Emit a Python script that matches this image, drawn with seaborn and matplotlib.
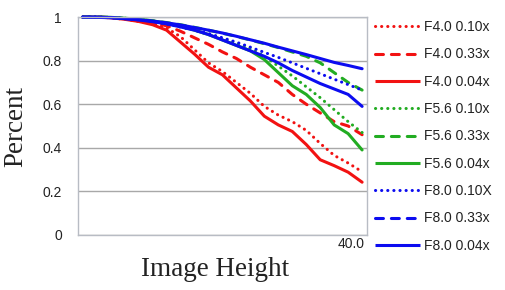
import numpy as np
import pandas as pd
import matplotlib
matplotlib.use("Agg")
import matplotlib.pyplot as plt
import matplotlib.transforms as mtransforms
from matplotlib.lines import Line2D
import seaborn as sns

# ---- data ----
image_height = [0, 2, 4, 6, 8, 10, 12, 14, 16, 18, 20, 22, 24, 26, 28, 30, 32, 34, 36, 38, 40]

f40_010 = [1.0, 1.0, 0.997, 0.99, 0.98, 0.97, 0.95, 0.91, 0.85, 0.79, 0.75, 0.70, 0.65, 0.59, 0.55, 0.52, 0.48, 0.42, 0.365, 0.33, 0.29]
f40_033 = [1.0, 1.0, 0.998, 0.993, 0.985, 0.975, 0.96, 0.935, 0.905, 0.875, 0.84, 0.81, 0.77, 0.735, 0.70, 0.645, 0.60, 0.56, 0.52, 0.50, 0.46]
f40_004 = [1.0, 1.0, 0.997, 0.99, 0.98, 0.965, 0.94, 0.885, 0.83, 0.77, 0.735, 0.675, 0.615, 0.545, 0.505, 0.475, 0.415, 0.345, 0.318, 0.288, 0.242]
f56_010 = [1.0, 1.0, 0.999, 0.995, 0.99, 0.982, 0.97, 0.955, 0.94, 0.92, 0.90, 0.88, 0.855, 0.82, 0.775, 0.73, 0.68, 0.63, 0.575, 0.52, 0.47]
f56_033 = [1.0, 1.0, 0.998, 0.994, 0.989, 0.983, 0.975, 0.965, 0.953, 0.94, 0.926, 0.911, 0.895, 0.878, 0.86, 0.84, 0.82, 0.79, 0.745, 0.70, 0.665]
f56_004 = [1.0, 1.0, 0.999, 0.995, 0.99, 0.983, 0.972, 0.958, 0.94, 0.92, 0.895, 0.87, 0.845, 0.805, 0.745, 0.685, 0.645, 0.585, 0.505, 0.465, 0.39]
f80_010 = [1.0, 1.0, 0.998, 0.994, 0.988, 0.98, 0.968, 0.955, 0.94, 0.925, 0.905, 0.885, 0.862, 0.838, 0.815, 0.79, 0.765, 0.74, 0.715, 0.69, 0.665]
f80_033 = [1.0, 1.0, 0.998, 0.993, 0.987, 0.979, 0.969, 0.955, 0.94, 0.92, 0.895, 0.87, 0.845, 0.82, 0.79, 0.755, 0.725, 0.695, 0.67, 0.645, 0.59]
f80_004 = [1.0, 0.999, 0.997, 0.993, 0.988, 0.982, 0.974, 0.964, 0.952, 0.94, 0.927, 0.912, 0.896, 0.88, 0.862, 0.845, 0.828, 0.81, 0.792, 0.778, 0.763]

series_names = ["F4.0 0.10x", "F4.0 0.33x", "F4.0 0.04x",
                "F5.6 0.10x", "F5.6 0.33x", "F5.6 0.04x",
                "F8.0 0.10X", "F8.0 0.33x", "F8.0 0.04x"]
series_values = [f40_010, f40_033, f40_004, f56_010, f56_033, f56_004, f80_010, f80_033, f80_004]

y_ticks = [0, 0.2, 0.4, 0.6, 0.8, 1.0]
y_tick_labels = ["0", "0.2", "0.4", "0.6", "0.8", "1"]
x_ticks = [40]
x_tick_labels = ["40.0"]

# ---- styles ----
RED, GREEN, BLUE = "#f21212", "#22ac22", "#0c0cf0"
colors = [RED, RED, RED, GREEN, GREEN, GREEN, BLUE, BLUE, BLUE]
DOT = (0.05, 1.95)
DASH = (2.6, 2.6)
legend_styles = [DOT, DASH, "", DOT, DASH, "", DOT, DASH, ""]
# the F8.0 0.33x curve appears as a continuous line in the plot area
plot_styles = [DOT, DASH, "", DOT, DASH, "", DOT, "", ""]

rows = []
for name, vals in zip(series_names, series_values):
    for x, v in zip(image_height, vals):
        rows.append({"Image Height": x, "Percent": v, "series": name})
df = pd.DataFrame(rows)

sns.set_theme(style="white")
LW = 2.2
SANS = "Liberation Sans"
SERIF = "Liberation Serif"
TXT = "#222222"

fig = plt.figure(figsize=(5.05, 2.90), dpi=100)
ax = fig.add_axes([0.154, 0.19, 0.573, 0.751])

sns.lineplot(data=df, x="Image Height", y="Percent", hue="series", style="series",
             hue_order=series_names, style_order=series_names,
             palette=dict(zip(series_names, colors)),
             dashes=dict(zip(series_names, plot_styles)),
             linewidth=LW, legend=False, ax=ax, dash_capstyle="round",
             solid_capstyle="round", clip_on=False)

ax.set_xlim(-0.72, 40.72)
ax.set_ylim(0, 1)
ax.set_yticks(y_ticks)
ax.set_yticklabels(y_tick_labels, fontfamily=SANS, fontsize=10, color=TXT)
ax.set_xticks(x_ticks)
ax.set_xticklabels(x_tick_labels, fontfamily=SANS, fontsize=10, color=TXT)
ax.tick_params(axis="both", length=0)
ax.tick_params(axis="y", pad=11.5)
ax.tick_params(axis="x", pad=1.5)
for lbl in ax.get_xticklabels():
    lbl.set_transform(lbl.get_transform() + mtransforms.ScaledTranslation(-11 / 100, 0, fig.dpi_scale_trans))

ax.grid(axis="y", color="#a8a8a8", linewidth=1.0)
ax.grid(axis="x", visible=False)
ax.set_axisbelow(True)
for sp in ax.spines.values():
    sp.set_color("#b8bcc4")
    sp.set_linewidth(1.0)

ax.set_ylabel("Percent", fontfamily=SERIF, fontsize=19.5, color=TXT, labelpad=10)
ax.set_xlabel("Image Height", fontfamily=SERIF, fontsize=19.5, color=TXT, labelpad=3)
ax.xaxis.set_label_coords(0.476, -0.1, transform=ax.transAxes)
ax.xaxis.label.set_verticalalignment("top")

handles = []
for name, c, st in zip(series_names, colors, legend_styles):
    kw = dict(color=c, linewidth=LW, dash_capstyle="round", solid_capstyle="butt")
    if st == "":
        h = Line2D([], [], linestyle="-", **kw)
    else:
        h = Line2D([], [], linestyle=(0, st), **kw)
    handles.append(h)
leg = fig.legend(handles, series_names, loc="upper left", bbox_to_anchor=(0.7315, 0.950),
                 frameon=False, prop={"family": SANS, "size": 10},
                 handlelength=3.25, handletextpad=0.3, labelspacing=0.96, borderaxespad=0)
for t in leg.get_texts():
    t.set_color(TXT)

fig.savefig("out.png", dpi=100)
